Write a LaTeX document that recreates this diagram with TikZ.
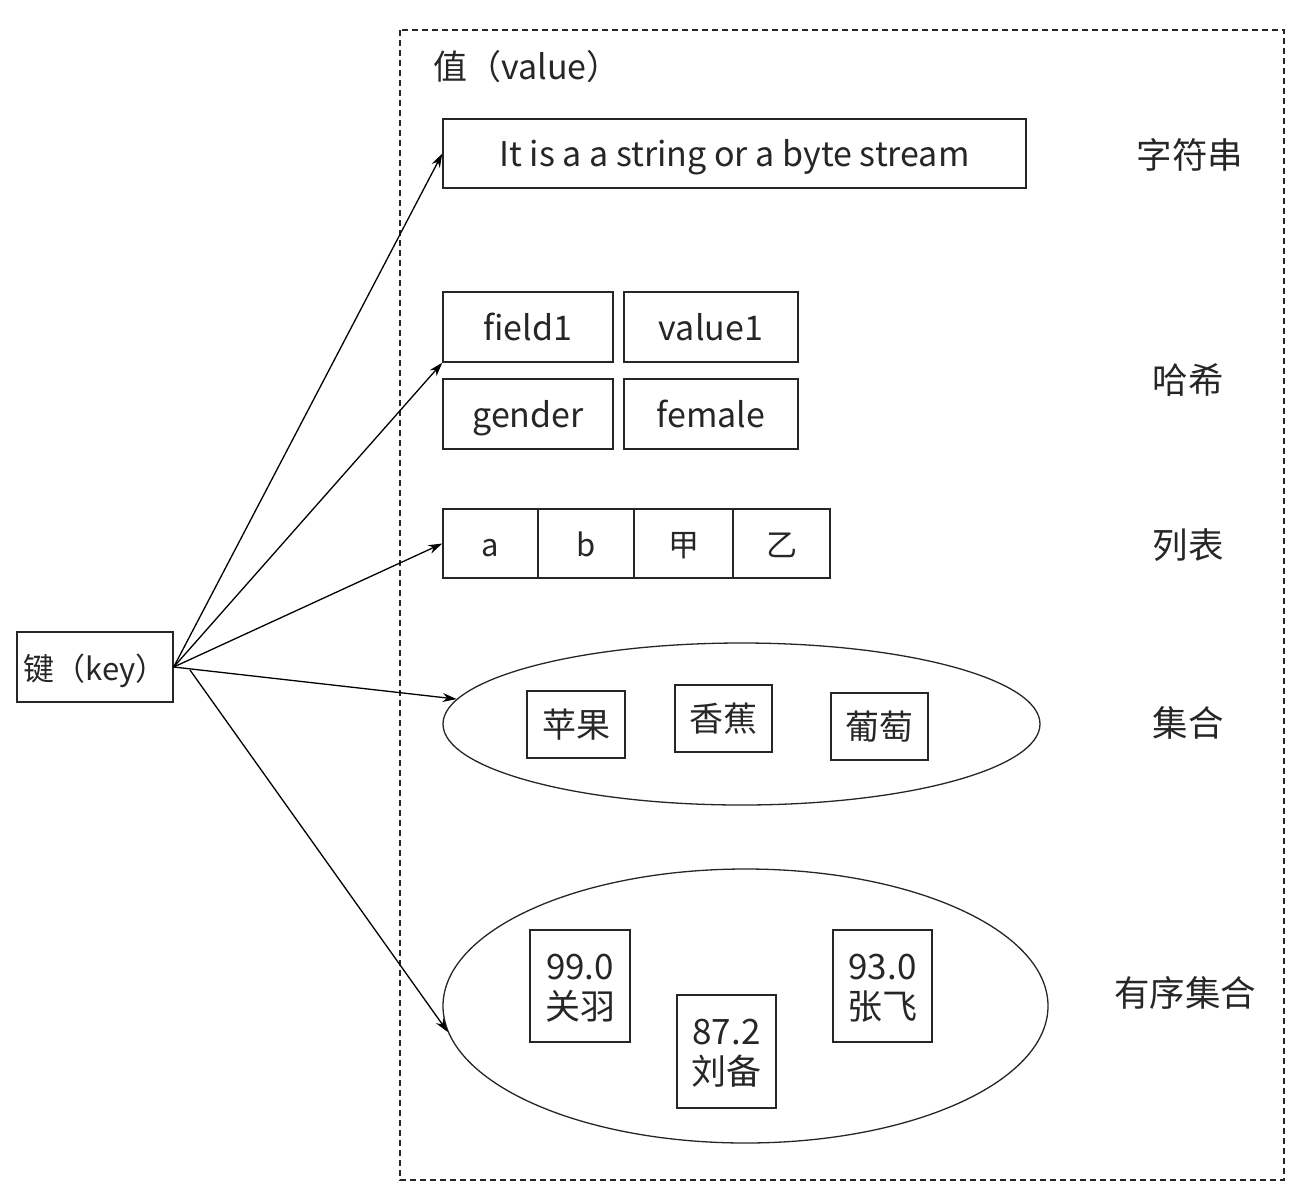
\documentclass[tikz,border=0pt]{standalone}
\usepackage{fontspec}
\setmainfont{Noto Sans CJK SC}
\usetikzlibrary{shapes.geometric,arrows.meta}
\begin{document}
\begin{tikzpicture}[x=1pt,y=-1pt,
  fs/.style={font=\fontsize{#1}{40}\selectfont},
  cell/.style={draw=black!85, text=black!85, line width=1.4pt, inner sep=0pt, align=center, text height=30pt, text depth=4pt},
  two/.style={text height=70pt, text depth=4pt},
  oval/.style={ellipse, draw=black!85, line width=1.3pt, inner sep=0pt},
  conn/.style={line width=1.3pt, draw=black, -{Stealth[length=14pt,width=9pt]}},
  lab/.style={fs=35.5, text=black!85}
]
\useasboundingbox (0,0) rectangle (1307,1203);
% dashed container
\draw[line width=1.3pt, dash pattern=on 6pt off 4pt, draw=black!85] (400,30) rectangle (1284,1180);
\node[fs=34, text=black!85, anchor=west] (vtitle) at (430,67) {值（value）};

% string
\node[cell, fs=34, minimum width=583pt, minimum height=69pt] (str) at (734.5,153.5) {It is a a string or a byte stream};
\node[lab] (lstr) at (1190,155) {字符串};

% hash
\node[cell, fs=34, minimum width=170pt, minimum height=70pt] (f1) at (528,327) {field1};
\node[cell, fs=34, minimum width=174pt, minimum height=70pt] (v1) at (711,327) {value1};
\node[cell, fs=34, minimum width=170pt, minimum height=70pt] (g) at (528,414) {gender};
\node[cell, fs=34, minimum width=174pt, minimum height=70pt] (fe) at (711,414) {female};
\node[lab] (lhash) at (1188,380) {哈希};

% list
\node[cell, fs=31, minimum width=95pt, minimum height=69pt] (la) at (490.5,543.5) {a};
\node[cell, fs=31, minimum width=96pt, minimum height=69pt] (lb) at (586,543.5) {b};
\node[cell, fs=31, minimum width=99pt, minimum height=69pt] (lc) at (683.5,543.5) {甲};
\node[cell, fs=31, minimum width=97pt, minimum height=69pt] (ld) at (781.5,543.5) {乙};
\node[lab] (llist) at (1188,545) {列表};

% set
\node[oval, minimum width=597pt, minimum height=162pt] (set) at (741.5,724) {};
\node[cell, fs=34, minimum width=98pt, minimum height=67pt] (s1) at (576,724.5) {苹果};
\node[cell, fs=34, minimum width=97pt, minimum height=67pt] (s2) at (723.5,718.5) {香蕉};
\node[cell, fs=34, minimum width=97pt, minimum height=67pt] (s3) at (879.5,726.5) {葡萄};
\node[lab] (lset) at (1188,723) {集合};

% sorted set
\node[oval, minimum width=605pt, minimum height=274pt] (zset) at (745.5,1006) {};
\node[cell, two, fs=35, minimum width=100pt, minimum height=112pt] (z1) at (580,986) {99.0\\关羽};
\node[cell, two, fs=35, minimum width=99pt, minimum height=113pt] (z2) at (726.5,1051.5) {87.2\\刘备};
\node[cell, two, fs=35, minimum width=99pt, minimum height=112pt] (z3) at (882.5,986) {93.0\\张飞};
\node[lab] (lzset) at (1185,993) {有序集合};

% key
\node[cell, fs=31, minimum width=156pt, minimum height=70pt] (key) at (95,667) {键（key）};
\coordinate (kstart) at (190,670);

% connectors
\draw[conn] (key.east) -- (str.west);
\draw[conn] (key.east) -- (f1.south west);
\draw[conn] (key.east) -- (la.west);
\draw[conn] (key.east) -- (set.175);
\draw[conn] (kstart) -- (zset.185);
\end{tikzpicture}
\end{document}
